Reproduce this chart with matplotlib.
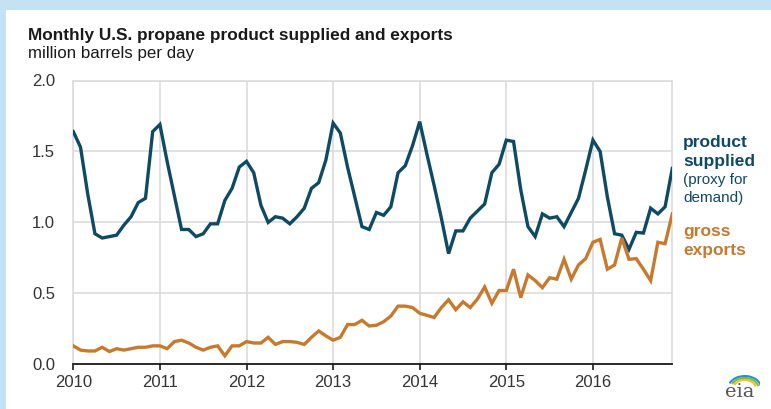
import matplotlib
matplotlib.use("Agg")
import matplotlib.pyplot as plt
from matplotlib.patches import Rectangle, Arc
import numpy as np
import pandas as pd

# Monthly values, Jan 2010 - Dec 2016 (million barrels per day)
months = pd.date_range("2010-01-01", "2016-12-01", freq="MS")

product_supplied = [
    1.64, 1.53, 1.20, 0.92, 0.89, 0.90, 0.91, 0.98, 1.04, 1.14, 1.17, 1.64,
    1.69, 1.43, 1.19, 0.95, 0.95, 0.90, 0.92, 0.99, 0.99, 1.155, 1.24, 1.39,
    1.43, 1.35, 1.12, 1.00, 1.04, 1.03, 0.99, 1.04, 1.10, 1.24, 1.28, 1.44,
    1.70, 1.63, 1.39, 1.18, 0.97, 0.95, 1.07, 1.05, 1.11, 1.35, 1.40, 1.54,
    1.71, 1.48, 1.26, 1.03, 0.78, 0.94, 0.94, 1.03, 1.08, 1.13, 1.35, 1.41,
    1.58, 1.57, 1.23, 0.97, 0.90, 1.06, 1.03, 1.04, 0.97, 1.07, 1.17, 1.37,
    1.58, 1.50, 1.18, 0.92, 0.91, 0.81, 0.93, 0.925, 1.10, 1.06, 1.11, 1.38,
]

gross_exports = [
    0.13, 0.10, 0.094, 0.094, 0.12, 0.09, 0.11, 0.10, 0.11, 0.12, 0.12, 0.13,
    0.13, 0.11, 0.16, 0.17, 0.15, 0.12, 0.10, 0.12, 0.13, 0.06, 0.13, 0.13,
    0.16, 0.15, 0.15, 0.19, 0.14, 0.16, 0.16, 0.155, 0.14, 0.19, 0.235, 0.20,
    0.17, 0.19, 0.28, 0.28, 0.31, 0.27, 0.275, 0.30, 0.34, 0.41, 0.41, 0.40,
    0.36, 0.345, 0.33, 0.40, 0.455, 0.385, 0.44, 0.40, 0.46, 0.545, 0.43, 0.52,
    0.52, 0.67, 0.47, 0.63, 0.59, 0.54, 0.61, 0.60, 0.74, 0.60, 0.70, 0.745,
    0.86, 0.88, 0.67, 0.70, 0.89, 0.74, 0.745, 0.67, 0.59, 0.86, 0.85, 1.06,
]

year_ticks = list(range(2010, 2017))
y_ticks = [0.0, 0.5, 1.0, 1.5, 2.0]

BLUE = "#0f4a64"
ORANGE = "#c77a2e"

plt.rcParams["font.family"] = ["Liberation Sans", "DejaVu Sans"]

x = months.year + (months.month - 1) / 12.0

fig = plt.figure(figsize=(7.71, 4.09), dpi=100, facecolor="#c4e2f4")
# white page panel under the light blue frame
fig.patches.append(Rectangle((6 / 771, 0), 1, 1 - 10 / 409, transform=fig.transFigure,
                             facecolor="white", edgecolor="none", zorder=-10))

ax = fig.add_axes([73.3 / 771, 1 - 364.3 / 409, (672.3 - 73.3) / 771, (364.3 - 80.5) / 409])
ax.set_facecolor("white")

ax.plot(x, product_supplied, color=BLUE, lw=2.4, solid_joinstyle="miter", zorder=3)
ax.plot(x, gross_exports, color=ORANGE, lw=2.4, solid_joinstyle="miter", zorder=3)

ax.set_xlim(x[0], x[-1])
ax.set_ylim(0, 2.0)
ax.set_xticks(year_ticks)
ax.set_xticklabels([str(y) for y in year_ticks])
ax.set_yticks(y_ticks)
ax.set_yticklabels([f"{v:.1f}" for v in y_ticks])

ax.grid(True, color="#dcdcdc", lw=1.2, zorder=0)
for side in ["top", "right", "left"]:
    ax.spines[side].set_color("#dcdcdc")
    ax.spines[side].set_linewidth(1.2)
ax.spines["bottom"].set_color("#1a1a1a")
ax.spines["bottom"].set_linewidth(1.3)
ax.spines["bottom"].set_zorder(4)

ax.tick_params(axis="x", length=4, width=1.2, color="#1a1a1a", direction="out",
               labelsize=12, labelcolor="#333333", pad=4)
ax.tick_params(axis="y", length=0, labelsize=12, labelcolor="#333333", pad=13)

# titles
fig.text(28 / 771, 1 - 40 / 409, "Monthly U.S. propane product supplied and exports",
         fontsize=12.4, fontweight="bold", color="#1a1a1a", va="baseline")
fig.text(28 / 771, 1 - 58 / 409, "million barrels per day",
         fontsize=12.2, color="#1a1a1a", va="baseline")

# direct labels
lx = 683 / 771
fig.text(lx, 1 - 147 / 409, "product", fontsize=12.5, fontweight="bold", color=BLUE, va="baseline")
fig.text(lx, 1 - 166 / 409, "supplied", fontsize=12.5, fontweight="bold", color=BLUE, va="baseline")
fig.text(lx, 1 - 184 / 409, "(proxy for", fontsize=11, color=BLUE, va="baseline")
fig.text(lx, 1 - 202 / 409, "demand)", fontsize=11, color=BLUE, va="baseline")
fig.text(lx, 1 - 236 / 409, "gross", fontsize=12.5, fontweight="bold", color=ORANGE, va="baseline")
fig.text(lx, 1 - 255 / 409, "exports", fontsize=12.5, fontweight="bold", color=ORANGE, va="baseline")

# eia logo
fig.text(740 / 771, 1 - 397 / 409, "eia", fontsize=14, family="DejaVu Serif",
         color="#555555", ha="center", va="baseline")
lax = fig.add_axes([726 / 771, 1 - 388 / 409, 34 / 771, 18 / 409])
lax.set_xlim(0, 1)
lax.set_ylim(0, 1)
lax.axis("off")
for r, c in [(0.50, "#f2c230"), (0.62, "#7cbf3c"), (0.74, "#2a8fd0")]:
    lax.add_patch(Arc((0.55, 0.0), r * 1.3, r * 1.8, theta1=15, theta2=150, color=c, lw=1.5))

fig.savefig("out.png", dpi=100, facecolor=fig.get_facecolor())
